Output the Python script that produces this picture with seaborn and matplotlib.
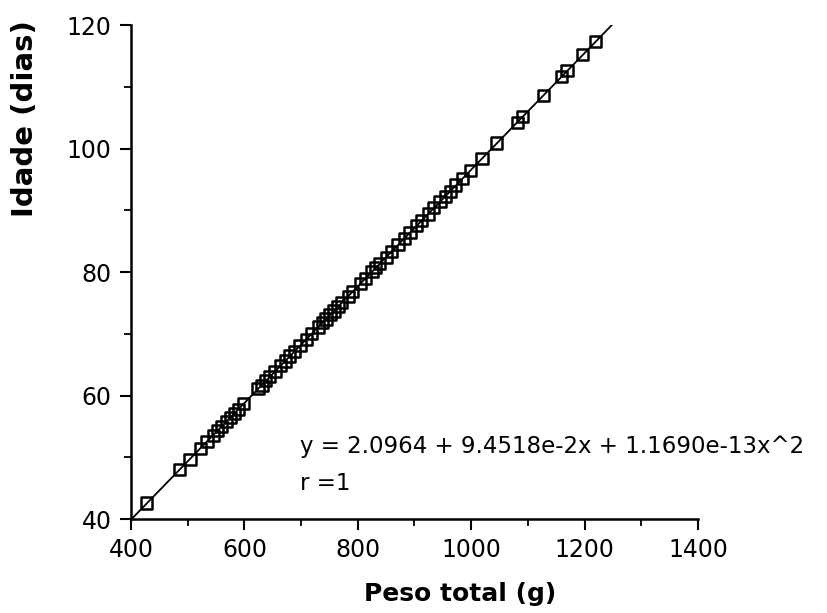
import matplotlib
matplotlib.use("Agg")
import matplotlib.pyplot as plt
from matplotlib.ticker import MultipleLocator
import pandas as pd
import seaborn as sns

# ---------------- Data ----------------
peso = [428, 486, 504, 522, 534, 545, 553, 560, 568, 575, 582, 589, 599,
        624, 631, 638, 645, 654, 663, 672, 680, 689, 698, 709, 719, 730,
        737, 744, 751, 758, 765, 772, 783, 790, 804, 814, 825, 832, 839,
        850, 860, 871, 882, 892, 903, 913, 924, 934, 945, 954, 963, 973,
        984, 998, 1019, 1045, 1081, 1091, 1127, 1160, 1169, 1197, 1220]
idade = [42.6, 48.0, 49.7, 51.4, 52.6, 53.6, 54.4, 55.0, 55.8, 56.4, 57.1,
         57.8, 58.7, 61.1, 61.7, 62.4, 63.1, 63.9, 64.8, 65.6, 66.4, 67.2,
         68.1, 69.1, 70.1, 71.1, 71.8, 72.4, 73.1, 73.7, 74.4, 75.1, 76.1,
         76.8, 78.1, 79.0, 80.1, 80.7, 81.4, 82.4, 83.4, 84.4, 85.5, 86.4,
         87.5, 88.4, 89.4, 90.4, 91.4, 92.3, 93.1, 94.1, 95.1, 96.4, 98.4,
         100.9, 104.3, 105.2, 108.6, 111.7, 112.6, 115.2, 117.4]

fit_x = [400, 1250]
fit_y = [39.9, 120.2]

equacao = "y = 2.0964 + 9.4518e-2x + 1.1690e-13x^2"
coef_r = "r =1"

df = pd.DataFrame({"Peso": peso, "Idade": idade})
fit = pd.DataFrame({"Peso": fit_x, "Idade": fit_y})

# ---------------- Plot ----------------
sns.set_style("ticks")
plt.rcParams["font.family"] = ["DejaVu Sans"]
plt.rcParams["text.color"] = "black"
plt.rcParams["axes.labelcolor"] = "black"
plt.rcParams["xtick.color"] = "black"
plt.rcParams["ytick.color"] = "black"

fig = plt.figure(figsize=(8.27, 6.13), dpi=100)
ax = fig.add_axes([0.1584, 0.1533, 0.6856, 0.8057])

sns.lineplot(data=fit, x="Peso", y="Idade", color="black", linewidth=1.3, ax=ax)
sns.scatterplot(data=df, x="Peso", y="Idade", marker="s", s=64,
                facecolors="none", edgecolor="black", linewidth=1.8, ax=ax)

ax.set_xlim(400, 1400)
ax.set_ylim(40, 120)
ax.xaxis.set_major_locator(MultipleLocator(200))
ax.xaxis.set_minor_locator(MultipleLocator(100))
ax.yaxis.set_major_locator(MultipleLocator(20))
ax.yaxis.set_minor_locator(MultipleLocator(10))

ax.tick_params(which="major", length=8, width=1.5, labelsize=17,
               direction="out", pad=6)
ax.tick_params(which="minor", length=5, width=1.3, direction="out")

for side in ["top", "right"]:
    ax.spines[side].set_visible(False)
for side in ["left", "bottom"]:
    ax.spines[side].set_linewidth(1.8)
    ax.spines[side].set_color("black")

ax.set_xlabel("Peso total (g)", fontsize=18, fontweight="bold")
ax.set_ylabel("Idade (dias)", fontsize=21, fontweight="bold")
ax.xaxis.set_label_coords(0.58, -0.128)
ax.yaxis.set_label_coords(-0.163, 0.81)

ax.text(698, 51.7, equacao, fontsize=16.5, va="center", ha="left")
ax.text(698, 45.8, coef_r, fontsize=16.5, va="center", ha="left")

fig.savefig("out.png", dpi=100)
